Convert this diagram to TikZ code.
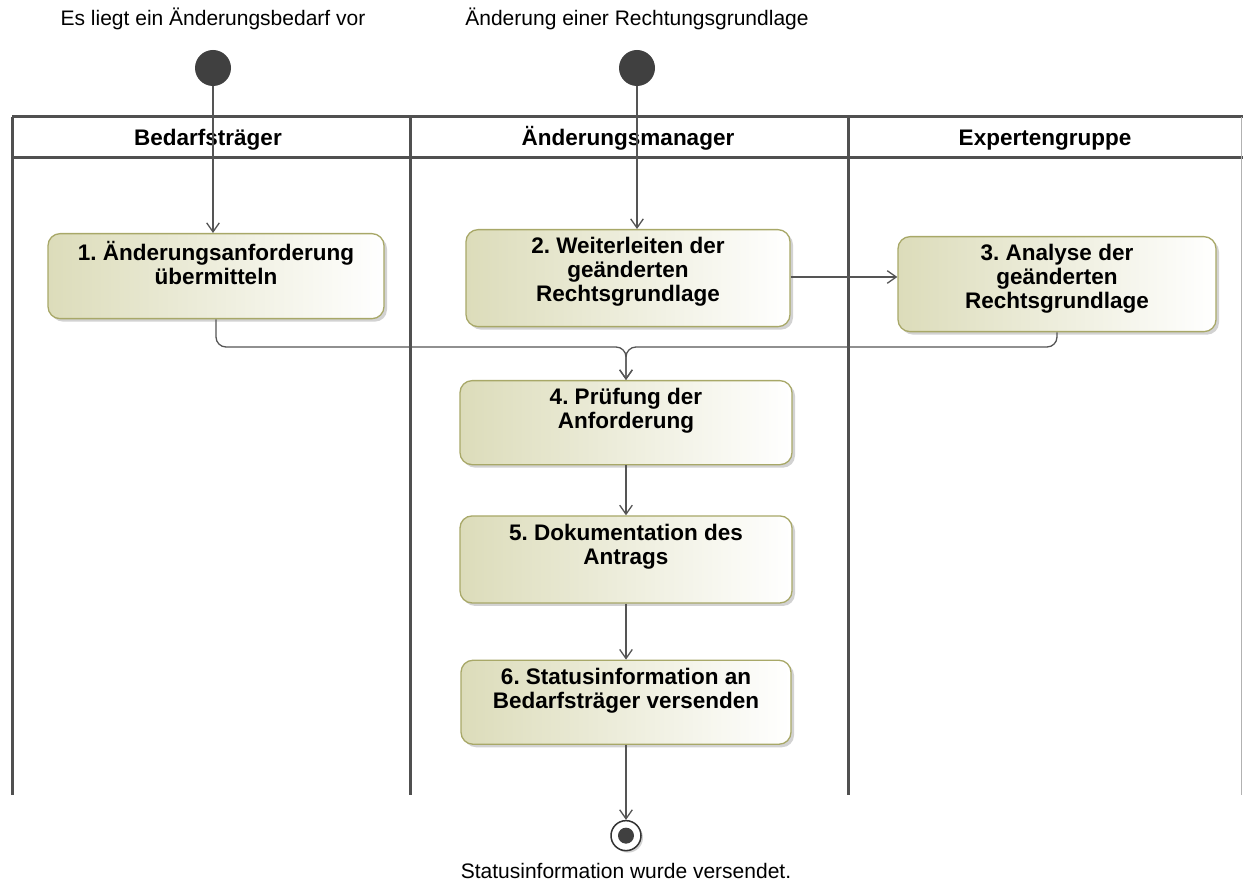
\documentclass[tikz,border=0pt]{standalone}
\usepackage{fontspec}
\setmainfont{Liberation Sans}
\usepackage{tikz}
\usetikzlibrary{positioning,arrows.meta,shadows}
\definecolor{actline}{RGB}{168,168,104}
\definecolor{actfill}{RGB}{220,220,186}
\definecolor{laneline}{RGB}{80,80,80}
\definecolor{flow}{RGB}{85,85,85}
\newcommand{\actbox}[2]{\parbox[t][#1pt][t]{300pt}{\centering #2}}
\frenchspacing

\begin{document}
\begin{tikzpicture}[
  x=1pt,y=-1pt,
  node distance=50pt,
  act/.style={draw=actline,line width=1.3pt,rounded corners=12pt,left color=actfill,right color=white,
              drop shadow={shadow xshift=3pt,shadow yshift=-3pt,fill=black!35},
              inner xsep=0pt,inner ysep=8pt,font=\bfseries\fontsize{22.5}{24}\selectfont},
  lanehead/.style={font=\bfseries\fontsize{22.5}{24}\selectfont,anchor=base},
  lbl/.style={font=\fontsize{21}{24}\selectfont},
  startnode/.style={circle,fill=black!75,minimum size=36pt,inner sep=0pt},
  endnode/.style={circle,draw=black!80,line width=1.5pt,fill=white,minimum size=30pt,inner sep=0pt,
                  drop shadow={shadow xshift=2pt,shadow yshift=-2pt,fill=black!35}},
  lane/.style={draw=laneline,line width=3pt},
  ar/.style={-{Straight Barb[angle=70:11pt,line width=1.3pt]},draw=flow,line width=1.3pt}
]
\useasboundingbox (0,0) rectangle (1243,893);

% swimlanes
\draw[lane] (12,117) -- (1243,117);
\draw[lane] (12,158) -- (1243,158);
\foreach \xl in {12,410,848}
  \draw[lane] (\xl,117) -- (\xl,795);
\draw[draw=black!30,line width=1pt] (1241,117) -- (1241,795);
\node[lanehead] (hbed) at (208,146) {Bedarfsträger};
\node[lanehead] (hman) at (628,146) {Änderungsmanager};
\node[lanehead] (hexp) at (1045,146) {Expertengruppe};

% start nodes
\node[startnode] (s1) at (213,68) {};
\node[startnode] (s2) at (637,68) {};
\node[lbl,above=16pt of s1] (ls1) {Es liegt ein Änderungsbedarf vor};
\node[lbl,above=16pt of s2] (ls2) {Änderung einer Rechtungsgrundlage};

% actions
\node[act,minimum width=336pt,anchor=north] (a1) at (216,233)
  {\actbox{69}{1. Änderungsanforderung\\übermitteln}};
\node[act,minimum width=324pt,anchor=north] (a2) at (628,229)
  {\actbox{81}{2. Weiterleiten der\\geänderten\\Rechtsgrundlage}};
\node[act,minimum width=318pt,anchor=north] (a3) at (1057,236)
  {\actbox{79}{3. Analyse der\\geänderten\\Rechtsgrundlage}};
\node[act,minimum width=332pt,anchor=north] (a4) at (626,380)
  {\actbox{68}{4. Prüfung der\\Anforderung}};
\node[act,minimum width=332pt,below=50pt of a4] (a5)
  {\actbox{71}{5. Dokumentation des\\Antrags}};
\node[act,minimum width=330pt,below=56pt of a5] (a6)
  {\actbox{68}{6. Statusinformation an\\Bedarfsträger versenden}};

% end node
\node[endnode,below=75pt of a6] (e1) {};
\fill[black!75] (e1) circle (8pt);
\node[lbl,below=8pt of e1] (le1) {Statusinformation wurde versendet.};

% flows
\coordinate (mrg) at (a4.north |- 0,347);
\draw[ar] (s1) -- (a1.north -| s1);
\draw[ar] (s2) -- (a2.north -| s2);
\draw[ar] (a2.east |- 0,277) -- (a3.west |- 0,277);
\draw[ar,rounded corners=10pt] (a1.south) |- (mrg) -- (a4.north);
\draw[ar,rounded corners=10pt] (a3.south) |- (mrg) -- (a4.north);
\draw[ar] (a4) -- (a5);
\draw[ar] (a5) -- (a6);
\draw[ar] (a6) -- (e1);
\end{tikzpicture}
\end{document}
